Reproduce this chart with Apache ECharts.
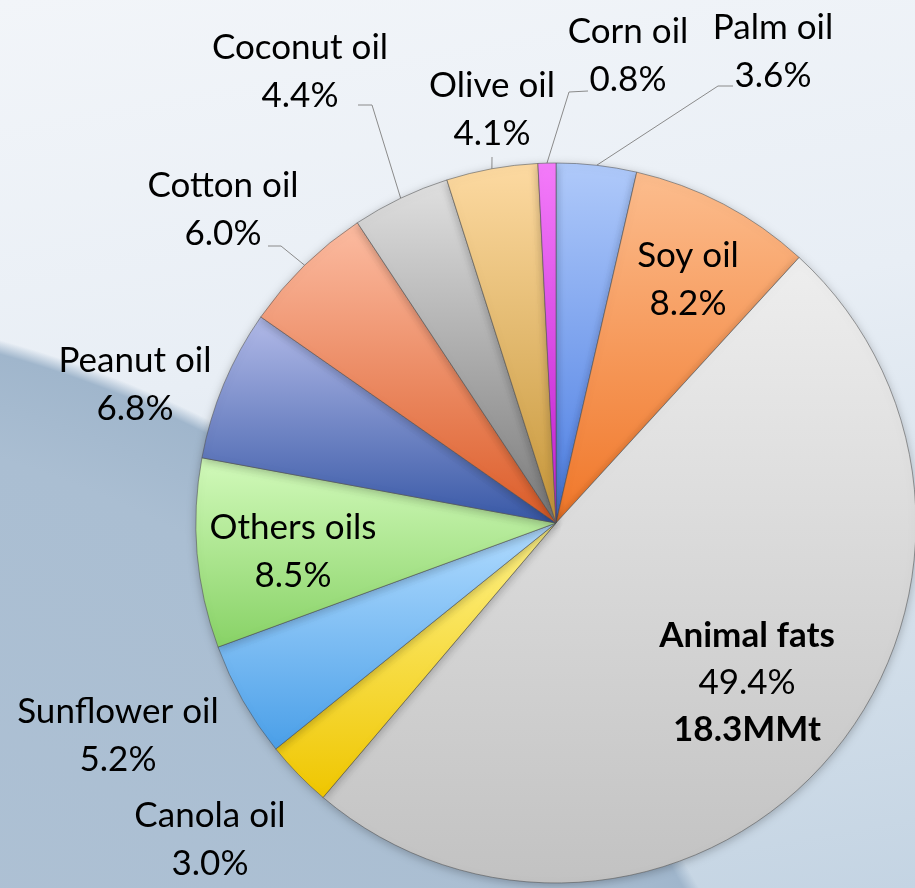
<!DOCTYPE html>
<html><head><meta charset="utf-8">
<script src="https://cdn.jsdelivr.net/npm/echarts@6/dist/echarts.min.js"></script>
<style>
html,body{margin:0;padding:0;overflow:hidden;}
#chart{width:915px;height:888px;
background:
 linear-gradient(160deg, rgba(255,255,255,0) 0%, rgba(255,255,255,0) 100%),
 radial-gradient(circle 1143px at -300px 1443px, #b2c4d6 0, #aabed2 90%, #a0b6cc 98.8%, rgba(200,215,228,0) 100%),
 linear-gradient(170deg, #f2f5f9 0%, #e8eef5 40%, #d3dfea 75%, #c4d4e3 100%);}
</style></head><body><div id="chart"></div>
<script>
const categories = ['Palm oil','Soy oil','Animal fats','Canola oil','Sunflower oil','Others oils','Peanut oil','Cotton oil','Coconut oil','Olive oil','Corn oil'];
const shares = [3.6, 8.2, 49.4, 3.0, 5.2, 8.5, 6.8, 6.0, 4.4, 4.1, 0.8];
const volumeMMt = [null, null, 18.3, null, null, null, null, null, null, null, null];

// styling / layout (not data)
const sliceColors = {
  'Palm oil':['#b0cafa','#4a7ce2'],
  'Soy oil':['#fcbd8e','#f07628'],
  'Animal fats':['#eeeeee','#c2c2c2'],
  'Canola oil':['#fff38a','#efc600'],
  'Sunflower oil':['#b2dcff','#4a9fe8'],
  'Others oils':['#d2fabb','#88d266'],
  'Peanut oil':['#b2bae8','#3858a6'],
  'Cotton oil':['#fcbca2','#dc5c28'],
  'Coconut oil':['#e0e0e0','#7a7a7a'],
  'Olive oil':['#fddaa2','#c69638'],
  'Corn oil':['#f57cfb','#c21ed3']
};
const insideLabels = ['Soy oil','Others oils','Animal fats'];
const labelPlace = {
  'Palm oil':{x:773,y:52,line:[[718,86],[733,86]]},
  'Corn oil':{x:628,y:56,line:[[569,92],[588,91]]},
  'Olive oil':{x:492,y:110,line:[[492,157]]},
  'Coconut oil':{x:300,y:72,line:[[372,105],[358,105]]},
  'Cotton oil':{x:223,y:210,line:[[281,246],[268,246]]},
  'Peanut oil':{x:135,y:385},
  'Sunflower oil':{x:118,y:736},
  'Canola oil':{x:210,y:840},
  'Soy oil':{x:688,y:280},
  'Others oils':{x:293,y:552},
  'Animal fats':{x:747,y:683}
};

const FONT = 'Lato, "Open Sans", sans-serif';
const data = categories.map(function(name, i){
  const c = sliceColors[name];
  const inside = insideLabels.indexOf(name) >= 0;
  const hasLine = !!labelPlace[name].line;
  return {
    name: name,
    value: shares[i],
    itemStyle: { color: new echarts.graphic.LinearGradient(0,0,0,1,[{offset:0,color:c[0]},{offset:1,color:c[1]}]) },
    label: { position: inside ? 'inside' : 'outside' },
    labelLine: { show: !inside && hasLine }
  };
});

const chart = echarts.init(document.getElementById('chart'), null, {renderer:'canvas'});
chart.setOption({
  backgroundColor: 'transparent',
  animation: false,
  series: [{
    type: 'pie',
    center: [556, 523],
    radius: 360,
    startAngle: 90,
    clockwise: true,
    data: data,
    itemStyle: {
      borderColor: 'rgba(80,80,80,0.55)',
      borderWidth: 1,
      shadowBlur: 10,
      shadowColor: 'rgba(0,0,0,0.25)',
      shadowOffsetY: 2
    },
    label: {
      show: true,
      fontFamily: FONT,
      color: '#000',
      formatter: function(p){
        const pct = shares[p.dataIndex].toFixed(1) + '%';
        const v = volumeMMt[p.dataIndex];
        if (v != null) return '{b|' + p.name + '}\n{p|' + pct + '}\n{b|' + v.toFixed(1) + 'MMt}';
        return '{p|' + p.name + '}\n{p|' + pct + '}';
      },
      rich: {
        p: {fontFamily: FONT, fontSize: 35, lineHeight: 48, color:'#000', align:'center'},
        b: {fontFamily: FONT, fontSize: 35, lineHeight: 46, color:'#000', fontWeight:'bold', align:'center'}
      }
    },
    labelLine: {
      show: true,
      length: 10, length2: 10,
      smooth: false,
      lineStyle: {color: '#8a8a8a', width: 1}
    },
    labelLayout: function(p){
      const name = categories[p.dataIndex];
      const L = labelPlace[name];
      const out = {x: L.x, y: L.y, align: 'center', verticalAlign: 'middle'};
      if (L.line && p.labelLinePoints) {
        out.labelLinePoints = [p.labelLinePoints[0]].concat(L.line);
      }
      return out;
    }
  }]
});
</script>
</body></html>
